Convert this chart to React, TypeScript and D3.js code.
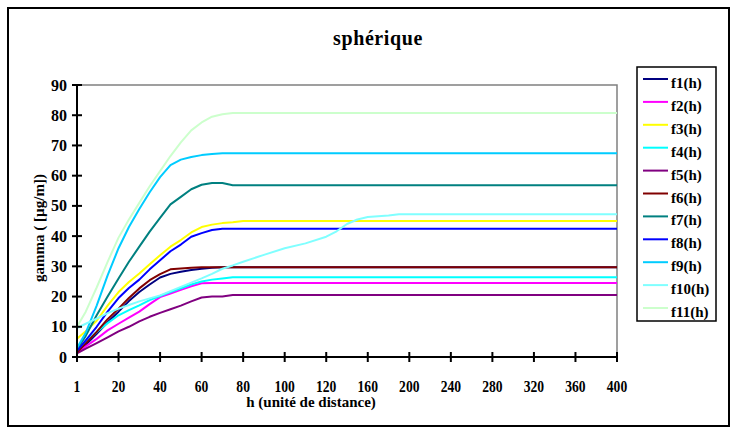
import React from "react";
import * as d3 from "d3";

// Distance categories (h) and label ticks of the category axis
const H = [1, 5, 10, 15, 20, 25, 30, 35, 40, 45, 50, 55, 60, 65, 70, 75, 80, 90, 100, 110, 120, 130, 140, 150, 160, 170, 180, 190, 200, 240, 280, 320, 360, 400];
const X_TICKS = [1, 20, 40, 60, 80, 100, 120, 160, 200, 240, 280, 320, 360, 400];
const Y_TICKS = [0, 10, 20, 30, 40, 50, 60, 70, 80, 90];

const F1 = [1.5, 4, 7.7, 11.5, 15, 18.5, 21.5, 24, 26.3, 27.5, 28.2, 28.8, 29.2, 29.5, 29.7, 29.7, 29.7, 29.7, 29.7, 29.7, 29.7, 29.7, 29.7, 29.7, 29.7, 29.7, 29.7, 29.7, 29.7, 29.7, 29.7, 29.7, 29.7, 29.7];
const F2 = [1.5, 3.5, 6, 8.8, 11, 13, 15, 17.5, 19.8, 21, 22.2, 23.4, 24.4, 24.5, 24.5, 24.5, 24.5, 24.5, 24.5, 24.5, 24.5, 24.5, 24.5, 24.5, 24.5, 24.5, 24.5, 24.5, 24.5, 24.5, 24.5, 24.5, 24.5, 24.5];
const F3 = [6, 8.5, 12, 17, 21.5, 24.8, 27.6, 30.7, 33.7, 36.5, 38.7, 41.2, 43, 43.8, 44.3, 44.6, 45, 45, 45, 45, 45, 45, 45, 45, 45, 45, 45, 45, 45, 45, 45, 45, 45, 45];
const F4 = [2, 5, 8.3, 11.2, 13.8, 15.5, 17.1, 18.8, 20.2, 21.5, 22.7, 24, 25, 25.6, 26, 26.4, 26.4, 26.4, 26.4, 26.4, 26.4, 26.4, 26.4, 26.4, 26.4, 26.4, 26.4, 26.4, 26.4, 26.4, 26.4, 26.4, 26.4, 26.4];
const F5 = [1.2, 2.8, 4.6, 6.5, 8.5, 10, 11.8, 13.3, 14.6, 15.8, 17, 18.4, 19.7, 20, 20, 20.5, 20.5, 20.5, 20.5, 20.5, 20.5, 20.5, 20.5, 20.5, 20.5, 20.5, 20.5, 20.5, 20.5, 20.5, 20.5, 20.5, 20.5, 20.5];
const F6 = [1.5, 4.5, 8.3, 12.5, 16, 19.5, 22.7, 25.4, 27.4, 29, 29.3, 29.5, 29.7, 29.7, 29.7, 29.7, 29.7, 29.7, 29.7, 29.7, 29.7, 29.7, 29.7, 29.7, 29.7, 29.7, 29.7, 29.7, 29.7, 29.7, 29.7, 29.7, 29.7, 29.7];
const F7 = [2.5, 7, 13.8, 20, 26, 31.5, 36.5, 41.5, 46, 50.5, 53, 55.5, 57, 57.6, 57.6, 56.8, 56.8, 56.8, 56.8, 56.8, 56.8, 56.8, 56.8, 56.8, 56.8, 56.8, 56.8, 56.8, 56.8, 56.8, 56.8, 56.8, 56.8, 56.8];
const F8 = [2, 5.5, 10, 15, 19.5, 22.8, 25.6, 29, 32, 35, 37.2, 39.8, 41, 42, 42.4, 42.4, 42.4, 42.4, 42.4, 42.4, 42.4, 42.4, 42.4, 42.4, 42.4, 42.4, 42.4, 42.4, 42.4, 42.4, 42.4, 42.4, 42.4, 42.4];
const F9 = [3, 8, 17, 27, 36, 43, 49, 54.5, 59.5, 63.5, 65.3, 66.2, 66.8, 67.2, 67.4, 67.4, 67.4, 67.4, 67.4, 67.4, 67.4, 67.4, 67.4, 67.4, 67.4, 67.4, 67.4, 67.4, 67.4, 67.4, 67.4, 67.4, 67.4, 67.4];
const F10 = [9.6, 11, 12.7, 14.5, 16, 17.2, 18.4, 19.4, 20.4, 21.8, 23.2, 24.6, 26, 27.5, 29.2, 30.3, 31.5, 33.8, 36, 37.6, 39.8, 41.6, 44, 45.5, 46.3, 46.6, 46.8, 47.2, 47.2, 47.2, 47.2, 47.2, 47.2, 47.2];
const F11 = [10, 15, 23, 31.5, 39.5, 45.5, 51, 56.5, 61.5, 66.5, 71, 75, 77.6, 79.5, 80.3, 80.7, 80.7, 80.7, 80.7, 80.7, 80.7, 80.7, 80.7, 80.7, 80.7, 80.7, 80.7, 80.7, 80.7, 80.7, 80.7, 80.7, 80.7, 80.7];

const SERIES_NAMES = ["f1(h)", "f2(h)", "f3(h)", "f4(h)", "f5(h)", "f6(h)", "f7(h)", "f8(h)", "f9(h)", "f10(h)", "f11(h)"];
const SERIES_VALUES = [F1, F2, F3, F4, F5, F6, F7, F8, F9, F10, F11];
const SERIES_COLORS = ["#000080", "#ff00ff", "#ffff00", "#00ffff", "#800080", "#800000", "#008080", "#0000ff", "#00ccff", "#80ffff", "#ccffcc"];

const W = 737;
const HGT = 434;
const PLOT = { left: 77, right: 617, top: 85, bottom: 357 };
const FONT = "Liberation Serif, Tinos, Times New Roman, DejaVu Serif, serif";

export default function App() {
  // Category axis: labelled categories are evenly spaced
  const x = d3
    .scaleLinear()
    .domain(X_TICKS)
    .range(X_TICKS.map((_, i) => PLOT.left + (i * (PLOT.right - PLOT.left)) / (X_TICKS.length - 1)));
  const y = d3.scaleLinear().domain([0, 90]).range([PLOT.bottom, PLOT.top]);

  const line = d3
    .line<number>()
    .x((_, i) => x(H[i]))
    .y((v) => y(v));

  const legendTop = 79;
  const legendStep = 22.9;

  return (
    <svg
      width={W}
      height={HGT}
      fontFamily={FONT}
      fontWeight="bold"
      style={{ position: "absolute", left: 0, top: 0 }}
    >
      <rect x={0} y={0} width={W} height={HGT} fill="#fff" />
      {/* chart frame */}
      <rect x={8} y={8} width={721} height={418} fill="none" stroke="#000" strokeWidth={2} />

      <text x={378} y={45} textAnchor="middle" fontSize={20} letterSpacing={0.6}>
        sphérique
      </text>

      {/* plot area top/right edges */}
      <path
        d={`M${PLOT.left},${PLOT.top}H${PLOT.right}V${PLOT.bottom}`}
        fill="none"
        stroke="#808080"
        strokeWidth={1.5}
      />

      {/* series */}
      {SERIES_VALUES.map((vals, i) => (
        <path
          key={SERIES_NAMES[i]}
          d={line(vals) || ""}
          fill="none"
          stroke={SERIES_COLORS[i]}
          strokeWidth={2}
          strokeLinejoin="round"
        />
      ))}

      {/* y axis */}
      <line x1={PLOT.left} x2={PLOT.left} y1={PLOT.top} y2={PLOT.bottom} stroke="#000" strokeWidth={2} />
      {Y_TICKS.map((t) => (
        <g key={"y" + t}>
          <line x1={PLOT.left - 5} x2={PLOT.left + 5} y1={y(t)} y2={y(t)} stroke="#000" strokeWidth={2} />
          <text x={67} y={y(t) + 5.5} textAnchor="end" fontSize={16}>
            {t}
          </text>
        </g>
      ))}

      {/* x axis */}
      <line x1={PLOT.left} x2={PLOT.right} y1={PLOT.bottom} y2={PLOT.bottom} stroke="#000" strokeWidth={2} />
      {X_TICKS.map((t) => (
        <g key={"x" + t}>
          <line x1={x(t)} x2={x(t)} y1={PLOT.bottom - 5} y2={PLOT.bottom + 5} stroke="#000" strokeWidth={2} />
          <text
            transform={`translate(${x(t)},391.5) scale(0.85,1)`}
            textAnchor="middle"
            fontSize={16}
          >
            {t}
          </text>
        </g>
      ))}

      <text x={311} y={407} textAnchor="middle" fontSize={15}>
        h (unité de distance)
      </text>
      <text transform="translate(44,228) rotate(-90)" textAnchor="middle" fontSize={15}>
        gamma ( [µg/m])
      </text>

      {/* legend */}
      <rect x={637} y={67} width={79} height={254} fill="#fff" stroke="#000" strokeWidth={1.5} />
      {SERIES_NAMES.map((name, i) => {
        const ly = legendTop + i * legendStep;
        return (
          <g key={"lg" + name}>
            <line x1={643} x2={668} y1={ly} y2={ly} stroke={SERIES_COLORS[i]} strokeWidth={2} />
            <text x={671} y={ly + 9} fontSize={15}>
              {name}
            </text>
          </g>
        );
      })}
    </svg>
  );
}
